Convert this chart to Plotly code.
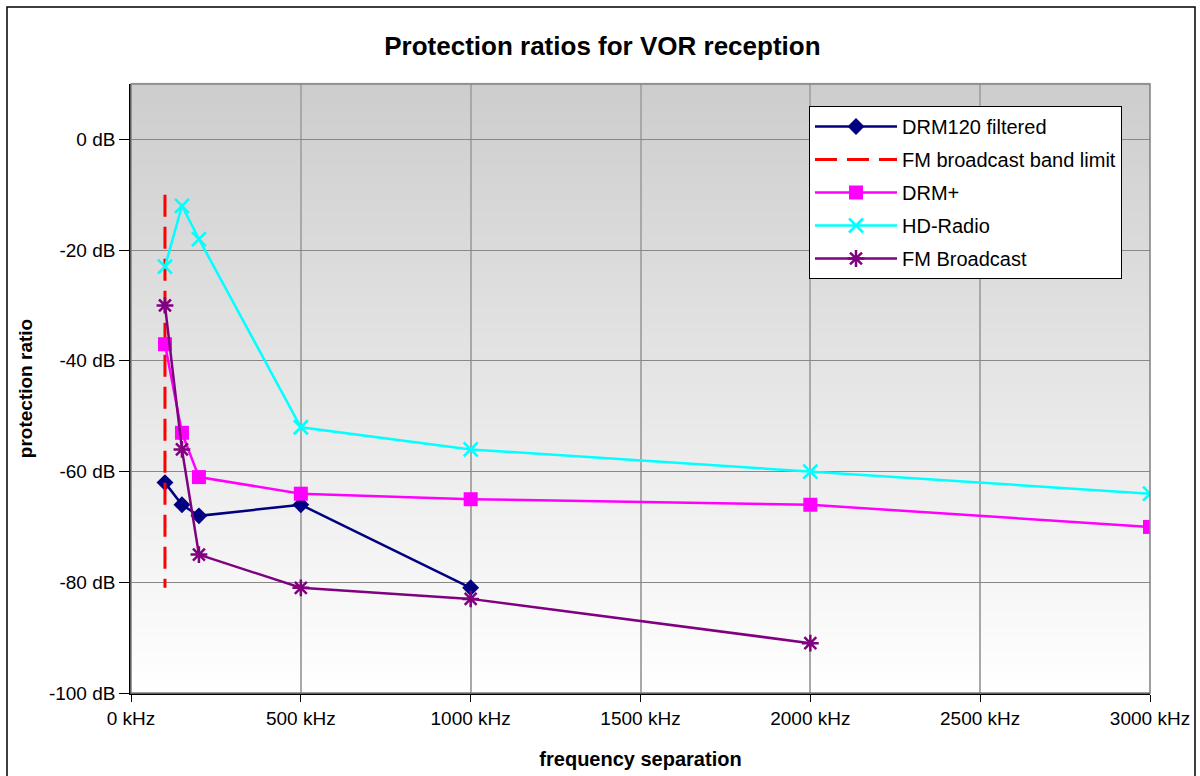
import plotly.graph_objects as go

# ---- data ----
drm120_x = [100, 150, 200, 500, 1000]
drm120_y = [-62, -66, -68, -66, -81]

band_limit_x = [100, 100]
band_limit_y = [-10, -81]

drmplus_x = [100, 150, 200, 500, 1000, 2000, 3000]
drmplus_y = [-37, -53, -61, -64, -65, -66, -70]

hd_x = [100, 150, 200, 500, 1000, 2000, 3000]
hd_y = [-23, -12, -18, -52, -56, -60, -64]

fm_x = [100, 150, 200, 500, 1000, 2000]
fm_y = [-30, -56, -75, -81, -83, -91]

x_tickvals = [0, 500, 1000, 1500, 2000, 2500, 3000]
x_ticktext = ["0 kHz", "500 kHz", "1000 kHz", "1500 kHz", "2000 kHz", "2500 kHz", "3000 kHz"]
y_tickvals = [-100, -80, -60, -40, -20, 0]
y_ticktext = ["-100 dB", "-80 dB", "-60 dB", "-40 dB", "-20 dB", "0 dB"]

FONT = "Liberation Sans, Arial, sans-serif"

fig = go.Figure()

fig.add_trace(go.Scatter(x=drm120_x, y=drm120_y, mode="lines+markers", name="DRM120 filtered",
                         legendgroup="a",
                         line=dict(color="#000080", width=2.5),
                         marker=dict(symbol="diamond", size=13, color="#000080")))
fig.add_trace(go.Scatter(x=band_limit_x, y=band_limit_y, mode="lines", name="FM broadcast band limit",
                         legendgroup="b",
                         line=dict(color="#FF0000", width=3, dash="22px,10px")))
fig.add_trace(go.Scatter(x=drmplus_x, y=drmplus_y, mode="lines+markers", name="DRM+",
                         legendgroup="c",
                         line=dict(color="#FF00FF", width=2.5),
                         marker=dict(symbol="square", size=14, color="#FF00FF")))
fig.add_trace(go.Scatter(x=hd_x, y=hd_y, mode="lines+markers", name="HD-Radio",
                         legendgroup="d",
                         line=dict(color="#00FFFF", width=2.5),
                         marker=dict(symbol="x-thin-open", size=14, color="#00FFFF",
                                     line=dict(color="#00FFFF", width=2.5))))
fig.add_trace(go.Scatter(x=fm_x, y=fm_y, mode="lines+markers", name="FM Broadcast",
                         legendgroup="e",
                         line=dict(color="#800080", width=2.5),
                         marker=dict(symbol="asterisk-open", size=14, color="#800080",
                                     line=dict(color="#800080", width=2.5))))

# gradient background of plot area
shapes = []
n = 120
top_c, bot_c = 205, 255
for i in range(n):
    t = i / n
    c = int(round(bot_c + (top_c - bot_c) * (t + 0.5 / n)))
    shapes.append(dict(type="rect", xref="x domain", yref="y domain",
                       x0=0, x1=1, y0=t, y1=t + 1.0 / n + 0.002,
                       fillcolor=f"rgb({c},{c},{c})", line=dict(width=0), layer="below"))
# plot area border
shapes.append(dict(type="rect", xref="x domain", yref="y domain", x0=0, x1=1, y0=0, y1=1,
                   line=dict(color="#808080", width=1.5), layer="above"))
# outer chart border
L, T = 131, 84
W, H = 1019, 609
shapes.append(dict(type="rect", xref="paper", yref="paper",
                   x0=(7 - L) / W, x1=(1195 - L) / W,
                   y0=(T + H - 790) / H, y1=(T + H - 7) / H,
                   line=dict(color="#000000", width=1.5), layer="above"))

fig.update_layout(
    width=1200, height=776,
    margin=dict(l=131, r=50, t=84, b=83, autoexpand=False),
    paper_bgcolor="white",
    plot_bgcolor="white",
    font=dict(family=FONT, size=19, color="black"),
    title=dict(text="<b>Protection ratios for VOR reception</b>", x=0.502, xanchor="center",
               y=1 - 46 / 776, yanchor="middle",
               font=dict(family=FONT, size=26, color="black")),
    shapes=shapes,
    showlegend=True,
    legend=dict(x=(809 - L) / W, xanchor="left", y=(T + H - 106) / H, yanchor="top",
                bgcolor="white", bordercolor="black", borderwidth=1,
                font=dict(family=FONT, size=20, color="black"),
                itemwidth=82, tracegroupgap=4, traceorder="grouped"),
)

fig.update_xaxes(range=[0, 3000], tickvals=x_tickvals, ticktext=x_ticktext,
                 showgrid=True, gridcolor="#a8a8a8", gridwidth=1.5,
                 showline=True, linecolor="black", linewidth=1.5,
                 ticks="outside", ticklen=7, tickcolor="black", tickwidth=1,
                 zeroline=False,
                 title=dict(text="<b>frequency separation</b>", standoff=24,
                            font=dict(family=FONT, size=20)))
fig.update_yaxes(range=[-100, 10], tickvals=y_tickvals, ticktext=y_ticktext,
                 showgrid=True, gridcolor="#888888", gridwidth=1,
                 showline=True, linecolor="black", linewidth=1.5,
                 ticks="outside", ticklen=10, tickcolor="black", tickwidth=1,
                 zeroline=False,
                 title=dict(text="<b>protection ratio</b>", standoff=11,
                            font=dict(family=FONT, size=19)))

fig.write_html("out.html", config={"displayModeBar": False},
               post_script="document.body.style.margin='0';document.body.style.overflow='hidden';")
